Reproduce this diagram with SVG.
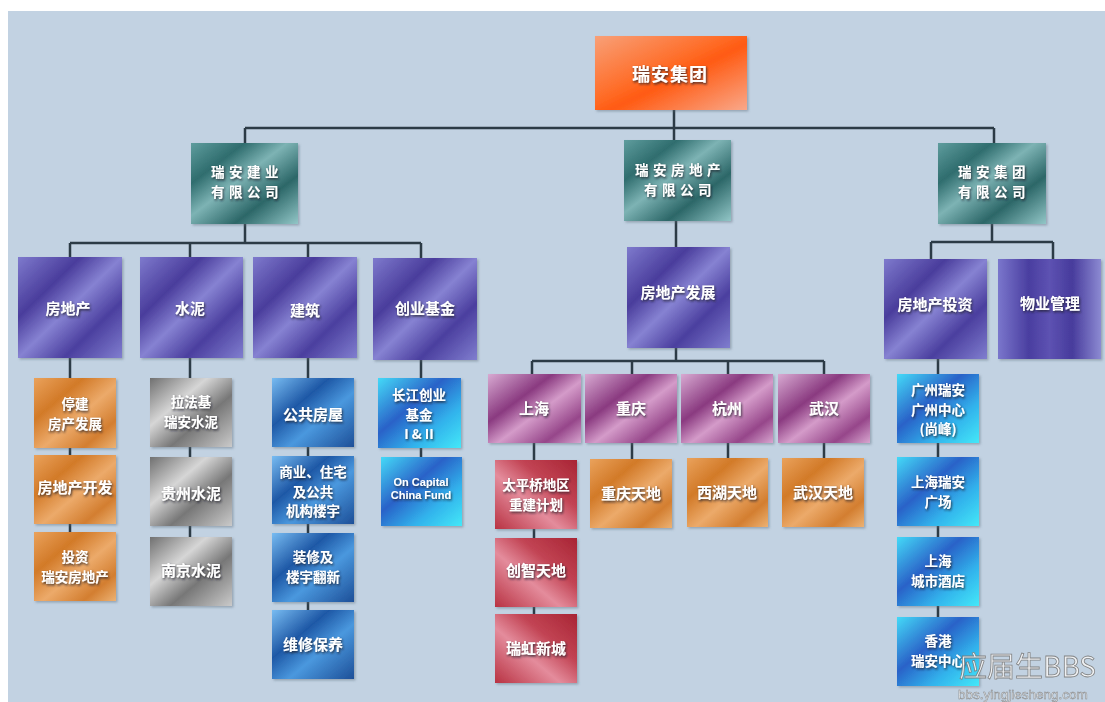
<svg xmlns="http://www.w3.org/2000/svg" width="1105" height="702" viewBox="0 0 1105 702">
<defs>
<linearGradient id="gTop" x1="0" y1="0" x2="1" y2="1">
<stop offset="0" stop-color="#f8a078"/><stop offset="0.45" stop-color="#ff6a24"/><stop offset="0.55" stop-color="#ff5a12"/><stop offset="1" stop-color="#f9a88a"/>
</linearGradient>
<linearGradient id="gTeal" x1="0" y1="0" x2="1" y2="1">
<stop offset="0" stop-color="#5f9d9e"/><stop offset="0.25" stop-color="#2f6d6e"/><stop offset="0.45" stop-color="#7db3b4"/><stop offset="0.7" stop-color="#2c6768"/><stop offset="1" stop-color="#92c6c7"/>
</linearGradient>
<linearGradient id="gPurple" x1="0" y1="0" x2="1" y2="1">
<stop offset="0" stop-color="#7e7acd"/><stop offset="0.3" stop-color="#4a3d9c"/><stop offset="0.5" stop-color="#8682d2"/><stop offset="0.72" stop-color="#4b3f9f"/><stop offset="1" stop-color="#807ecf"/>
</linearGradient>
<linearGradient id="gPurpleV" x1="0" y1="0" x2="1" y2="0">
<stop offset="0" stop-color="#7a76cc"/><stop offset="0.3" stop-color="#4a3ea0"/><stop offset="0.5" stop-color="#5d52b2"/><stop offset="0.72" stop-color="#473b9c"/><stop offset="1" stop-color="#8c8ad2"/>
</linearGradient>
<linearGradient id="gOrange" x1="0" y1="0" x2="1" y2="1">
<stop offset="0" stop-color="#eaa25c"/><stop offset="0.3" stop-color="#d27a28"/><stop offset="0.55" stop-color="#ecaa6a"/><stop offset="0.8" stop-color="#d37e30"/><stop offset="1" stop-color="#ecb274"/>
</linearGradient>
<linearGradient id="gGray" x1="0" y1="0" x2="1" y2="1">
<stop offset="0" stop-color="#707070"/><stop offset="0.35" stop-color="#d6d6d6"/><stop offset="0.62" stop-color="#777777"/><stop offset="1" stop-color="#cacaca"/>
</linearGradient>
<linearGradient id="gBlue" x1="0" y1="0" x2="1" y2="1">
<stop offset="0" stop-color="#78bcf2"/><stop offset="0.35" stop-color="#1e58a6"/><stop offset="0.6" stop-color="#4a98de"/><stop offset="1" stop-color="#1d4f98"/>
</linearGradient>
<linearGradient id="gCyan" x1="0" y1="0" x2="1" y2="1">
<stop offset="0" stop-color="#44daf8"/><stop offset="0.4" stop-color="#2a62c8"/><stop offset="0.7" stop-color="#31b2ec"/><stop offset="1" stop-color="#44e8f8"/>
</linearGradient>
<linearGradient id="gPink" x1="0" y1="0" x2="1" y2="1">
<stop offset="0" stop-color="#d8aad2"/><stop offset="0.35" stop-color="#8a3a80"/><stop offset="0.55" stop-color="#d49bc9"/><stop offset="0.8" stop-color="#96468a"/><stop offset="1" stop-color="#d8a6d0"/>
</linearGradient>
<linearGradient id="gRed" x1="1" y1="0" x2="0" y2="1">
<stop offset="0" stop-color="#a82434"/><stop offset="0.35" stop-color="#c24454"/><stop offset="0.6" stop-color="#e48c9c"/><stop offset="1" stop-color="#b83242"/>
</linearGradient>
<filter id="ts" x="-20%" y="-40%" width="140%" height="180%">
<feDropShadow dx="1" dy="1.5" stdDeviation="0.8" flood-color="#1a1a2a" flood-opacity="0.85"/>
</filter>
<filter id="bs" x="-10%" y="-10%" width="125%" height="125%">
<feDropShadow dx="1.5" dy="1.5" stdDeviation="1.2" flood-color="#5a6a78" flood-opacity="0.45"/>
</filter>
</defs>
<style>
text{font-family:"Noto Sans CJK SC","Noto Sans",sans-serif;fill:#ffffff;font-size:15px;font-weight:bold;text-anchor:middle;dominant-baseline:central;filter:url(#ts)}
.m{font-size:13.5px}
.t2{font-size:13.5px;letter-spacing:4.5px}
.top{font-size:18px;letter-spacing:1px}
.en{font-family:"Liberation Sans",sans-serif;font-size:11px}
rect{filter:url(#bs)}
.c{stroke:#2c3b46;stroke-width:2.5;fill:none}
.wm1{font-family:"Noto Sans CJK SC",sans-serif;font-size:28px;font-weight:normal;fill:#f4f4f4;stroke:#7a7a7a;stroke-width:0.8;text-anchor:start;dominant-baseline:alphabetic;filter:none;opacity:0.9}
.wm2{font-family:"Liberation Sans",sans-serif;font-size:13.5px;font-weight:normal;fill:#f4f4f4;stroke:#7a7a7a;stroke-width:0.5;text-anchor:start;dominant-baseline:alphabetic;filter:none;opacity:0.9}
</style>
<rect x="0" y="0" width="1105" height="702" fill="#ffffff" style="filter:none"/>
<rect x="8" y="11" width="1097" height="691" fill="#c2d2e2" style="filter:none"/>

<g id="connectors">
<path class="c" d="M674 110V140M245 128H994M245 128V143M994 128V143"/>
<path class="c" d="M245 224V243M70 243H421M70 243V257M190 243V257M308 243V257M421 243V258"/>
<path class="c" d="M70 358V532M190 358V537M308 358V610M421 360V457"/>
<path class="c" d="M676 221V247M676 348V361M532 361H824M532 361V374M632 361V374M728 361V374M824 361V374"/>
<path class="c" d="M534 443V614M632 443V459M728 443V458M824 443V458"/>
<path class="c" d="M992 224V242M931 242H1053M931 242V259M1053 242V259M938 359V617"/>
</g>

<g id="n-ruian-group"><rect x="595" y="36" width="152" height="74" fill="url(#gTop)"/><text class="top" x="670" y="73">瑞安集团</text></g>

<g id="n-jianye"><rect x="191" y="143" width="107" height="81" fill="url(#gTeal)"/><text class="t2" x="247" y="171">瑞安建业<tspan x="247" dy="20">有限公司</tspan></text></g>
<g id="n-fangdichan-co"><rect x="624" y="140" width="107" height="81" fill="url(#gTeal)"/><text class="t2" x="680" y="169">瑞安房地产<tspan x="680" dy="20">有限公司</tspan></text></g>
<g id="n-jituan-co"><rect x="938" y="143" width="108" height="81" fill="url(#gTeal)"/><text class="t2" x="994" y="171">瑞安集团<tspan x="994" dy="20">有限公司</tspan></text></g>

<g id="n-fdc"><rect x="18" y="257" width="104" height="101" fill="url(#gPurple)"/><text x="68" y="307">房地产</text></g>
<g id="n-shuini"><rect x="140" y="257" width="103" height="101" fill="url(#gPurple)"/><text x="190" y="307">水泥</text></g>
<g id="n-jianzhu"><rect x="253" y="257" width="104" height="101" fill="url(#gPurple)"/><text x="305" y="309">建筑</text></g>
<g id="n-chuangye"><rect x="373" y="258" width="104" height="102" fill="url(#gPurple)"/><text x="425" y="307">创业基金</text></g>
<g id="n-fdcfz"><rect x="627" y="247" width="103" height="101" fill="url(#gPurple)"/><text x="678" y="291">房地产发展</text></g>
<g id="n-fdctz"><rect x="884" y="259" width="103" height="100" fill="url(#gPurple)"/><text x="935" y="303">房地产投资</text></g>
<g id="n-wuye"><rect x="998" y="259" width="103" height="100" fill="url(#gPurpleV)"/><text x="1050" y="302">物业管理</text></g>

<g id="n-tingjian"><rect x="34" y="378" width="82" height="70" fill="url(#gOrange)"/><text class="m" x="75" y="403">停建<tspan x="75" dy="20">房产发展</tspan></text></g>
<g id="n-kaifa"><rect x="34" y="455" width="82" height="69" fill="url(#gOrange)"/><text x="75" y="486">房地产开发</text></g>
<g id="n-touzi"><rect x="34" y="532" width="82" height="69" fill="url(#gOrange)"/><text class="m" x="75" y="556">投资<tspan x="75" dy="20">瑞安房地产</tspan></text></g>

<g id="n-lafaji"><rect x="150" y="378" width="82" height="69" fill="url(#gGray)"/><text class="m" x="191" y="401">拉法基<tspan x="191" dy="20">瑞安水泥</tspan></text></g>
<g id="n-guizhou"><rect x="150" y="457" width="82" height="69" fill="url(#gGray)"/><text x="191" y="492">贵州水泥</text></g>
<g id="n-nanjing"><rect x="150" y="537" width="82" height="69" fill="url(#gGray)"/><text x="191" y="569">南京水泥</text></g>

<g id="n-gonggong"><rect x="272" y="378" width="82" height="69" fill="url(#gBlue)"/><text x="313" y="413">公共房屋</text></g>
<g id="n-shangye"><rect x="272" y="456" width="82" height="68" fill="url(#gBlue)"/><text class="m" x="313" y="471">商业、住宅<tspan x="313" dy="19.6">及公共</tspan><tspan x="313" dy="19.6">机构楼宇</tspan></text></g>
<g id="n-zhuangxiu"><rect x="272" y="533" width="82" height="69" fill="url(#gBlue)"/><text class="m" x="313" y="556">装修及<tspan x="313" dy="20">楼宇翻新</tspan></text></g>
<g id="n-weixiu"><rect x="272" y="610" width="82" height="69" fill="url(#gBlue)"/><text x="313" y="643">维修保养</text></g>

<g id="n-changjiang"><rect x="378" y="378" width="83" height="70" fill="url(#gCyan)"/><text class="m" x="419" y="394">长江创业<tspan x="419" dy="19.6">基金</tspan><tspan x="419" dy="19.6">I &amp; II</tspan></text></g>
<g id="n-oncapital"><rect x="381" y="457" width="81" height="69" fill="url(#gCyan)"/><text class="en" x="421" y="482">On Capital<tspan x="421" dy="12.6">China Fund</tspan></text></g>

<g id="n-shanghai"><rect x="488" y="374" width="93" height="69" fill="url(#gPink)"/><text x="534" y="407">上海</text></g>
<g id="n-chongqing"><rect x="585" y="374" width="92" height="69" fill="url(#gPink)"/><text x="631" y="407">重庆</text></g>
<g id="n-hangzhou"><rect x="681" y="374" width="92" height="69" fill="url(#gPink)"/><text x="727" y="407">杭州</text></g>
<g id="n-wuhan"><rect x="778" y="374" width="92" height="69" fill="url(#gPink)"/><text x="824" y="407">武汉</text></g>

<g id="n-taipingqiao"><rect x="495" y="460" width="82" height="69" fill="url(#gRed)"/><text class="m" x="536" y="484">太平桥地区<tspan x="536" dy="20">重建计划</tspan></text></g>
<g id="n-chuangzhi"><rect x="495" y="538" width="82" height="69" fill="url(#gRed)"/><text x="536" y="569">创智天地</text></g>
<g id="n-ruihong"><rect x="495" y="614" width="82" height="69" fill="url(#gRed)"/><text x="536" y="647">瑞虹新城</text></g>

<g id="n-cqtd"><rect x="590" y="459" width="82" height="69" fill="url(#gOrange)"/><text x="631" y="492">重庆天地</text></g>
<g id="n-xhtd"><rect x="687" y="458" width="81" height="69" fill="url(#gOrange)"/><text x="727" y="491">西湖天地</text></g>
<g id="n-whtd"><rect x="782" y="458" width="82" height="69" fill="url(#gOrange)"/><text x="823" y="491">武汉天地</text></g>

<g id="n-guangzhou"><rect x="897" y="374" width="82" height="69" fill="url(#gCyan)"/><text class="m" x="938" y="389">广州瑞安<tspan x="938" dy="19.6">广州中心</tspan><tspan x="938" dy="19.6">(尚峰)</tspan></text></g>
<g id="n-shrafc"><rect x="897" y="457" width="82" height="69" fill="url(#gCyan)"/><text class="m" x="938" y="481">上海瑞安<tspan x="938" dy="20">广场</tspan></text></g>
<g id="n-shjd"><rect x="897" y="537" width="82" height="69" fill="url(#gCyan)"/><text class="m" x="938" y="560">上海<tspan x="938" dy="20">城市酒店</tspan></text></g>
<g id="n-hk"><rect x="897" y="617" width="82" height="69" fill="url(#gCyan)"/><text class="m" x="938" y="640">香港<tspan x="938" dy="20">瑞安中心</tspan></text></g>

<text class="wm1" x="959" y="677">应届生BBS</text>
<text class="wm2" x="958" y="699">bbs.yingjiesheng.com</text>
</svg>
